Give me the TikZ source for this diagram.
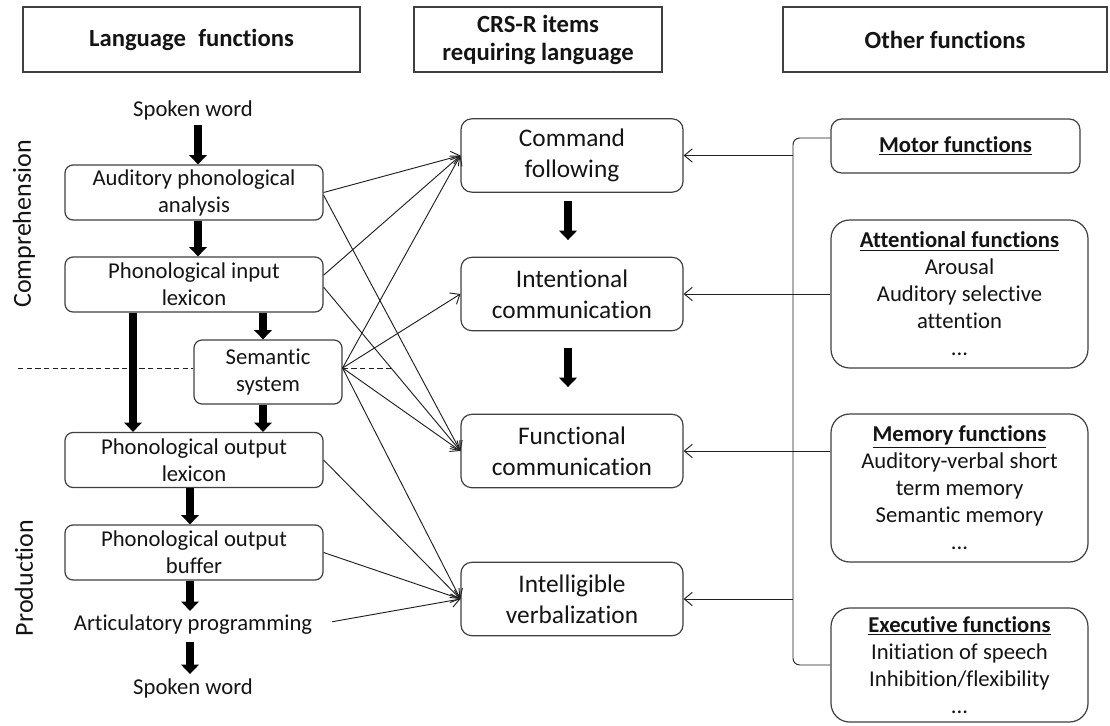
\documentclass[tikz,border=0pt]{standalone}
\usepackage{fontspec}
\setmainfont{Carlito}[Ligatures=NoCommon]
\usetikzlibrary{arrows.meta}
\definecolor{boxc}{HTML}{404040}
\definecolor{txtc}{HTML}{141414}
\definecolor{linec}{HTML}{202020}
\newcommand{\bodyfont}{\fontsize{17}{20.25}\selectfont}
\newcommand{\midfont}{\fontsize{19}{23}\selectfont}
\newcommand{\hdrfont}{\fontsize{18.5}{21}\selectfont\bfseries}
\begin{document}
\begin{tikzpicture}[x=0.75pt,y=-0.75pt,
  every node/.style={text=txtc},
  hdr/.style={draw=boxc, line width=1pt, rectangle, minimum height=48.75pt, inner sep=0pt, font=\hdrfont, align=center},
  lbox/.style={draw=boxc, line width=0.9pt, rounded corners=6pt, fill=white, minimum width=193.5pt, minimum height=41.25pt, inner sep=0pt, align=center, font=\bodyfont},
  mbox/.style={draw=boxc, line width=0.9pt, rounded corners=8pt, fill=white, minimum width=166.5pt, minimum height=55pt, inner sep=0pt, align=center, font=\midfont},
  rbox/.style={draw=boxc, line width=0.9pt, rounded corners=14pt, fill=white, minimum width=192.75pt, inner sep=0pt, align=center, font=\bodyfont},
  txt/.style={inner sep=1pt, font=\bodyfont},
  side/.style={inner sep=0pt, font=\fontsize{19.5}{22}\selectfont, rotate=90},
  bigarrow/.style={line width=6.3pt, draw=black, -{Triangle[length=7pt,width=13pt]}},
  ta/.style={line width=0.7pt, draw=linec, -{Straight Barb[length=6pt,width=10pt]}},
  ln/.style={line width=0.7pt, draw=linec}
]
\useasboundingbox (0,0) rectangle (1110,725);

% headers
\node[hdr, minimum width=252.75pt] (hl) at (191.5,39.5) {Language\hspace{0.5em}functions};
\node[hdr, minimum width=186pt] (hc) at (538,39.5) {CRS-R items\\requiring language};
\node[hdr, minimum width=243pt] (ho) at (945,39.5) {Other functions};

% side labels
\node[side] (comp) at (24,224) {Comprehension};
\node[side] (prod) at (24,578) {Production};

% dashed separator
\coordinate (dl) at (18,368);
\coordinate (dr) at (392,368);

% left column
\node[txt] (sw1) at (193,110) {Spoken word};
\node[lbox] (apa) at (194,192.5) {Auditory phonological\\analysis};
\node[lbox] (pil) at (194,284.5) {Phonological input\\lexicon};
\node[lbox, minimum width=111pt, minimum height=48pt] (sem) at (268,372) {Semantic\\system};
\node[lbox] (pol) at (194,460) {Phonological output\\lexicon};
\node[lbox] (pob) at (194,552.5) {Phonological output\\buffer};
\node[txt] (art) at (193,625) {Articulatory programming};
\node[txt] (sw2) at (193,688) {Spoken word};

\draw[ln, dash pattern=on 4pt off 2.5pt] (dl) -- (dl -| sem.west);
\draw[ln, dash pattern=on 4pt off 2.5pt] (sem.east |- dl) -- (dr);

% middle column
\node[mbox] (cf) at (572,155.5) {Command\\following};
\node[mbox] (ic) at (572,294) {Intentional\\communication};
\node[mbox] (fc) at (572,451) {Functional\\communication};
\node[mbox] (iv) at (572,599) {Intelligible\\verbalization};

% right column
\node[rbox, minimum width=186.75pt, minimum height=40.5pt, rounded corners=8pt] (mot) at (955.5,146) {\underline{\textbf{Motor functions}}};
\node[rbox, minimum height=111pt] (att) at (959.5,294) {\underline{\textbf{Attentional functions}}\\Arousal\\Auditory selective\\attention\\...};
\node[rbox, minimum height=111pt] (mem) at (959.5,488) {\underline{\textbf{Memory functions}}\\Auditory-verbal short\\term memory\\Semantic memory\\...};
\node[rbox, minimum height=85.5pt] (exe) at (959.5,665) {\underline{\textbf{Executive functions}}\\Initiation of speech\\Inhibition/flexibility\\...};

% thick vertical arrows, left
\draw[bigarrow, shorten <=3pt] (sw1.south -| 198,0) -- (apa.north -| 198,0);
\draw[bigarrow] (apa.south -| 198,0) -- (pil.north -| 198,0);
\draw[bigarrow] (pil.south -| 263,0) -- (sem.north -| 263,0);
\draw[bigarrow] (pil.south -| 133,0) -- (pol.north -| 133,0);
\draw[bigarrow] (sem.south -| 263,0) -- (pol.north -| 263,0);
\draw[bigarrow] (pol.south -| 190,0) -- (pob.north -| 190,0);
\draw[bigarrow, shorten >=2pt] (pob.south -| 190,0) -- (art.north -| 190,0);
\draw[bigarrow, shorten <=4pt, shorten >=2pt] (art.south -| 190,0) -- (sw2.north -| 190,0);

% thick vertical arrows, middle
\draw[bigarrow, shorten <=6pt, shorten >=12.5pt] (cf.south -| 568,0) -- (ic.north -| 568,0);
\draw[bigarrow, shorten <=12.5pt, shorten >=20pt] (ic.south -| 568,0) -- (fc.north -| 568,0);

% thin connectors left -> middle
\draw[ta] (apa.east) -- (cf.west);
\draw[ta] ([yshift=-2pt]apa.east) -- (fc.west);
\draw[ta] ([yshift=7pt]pil.east) -- (cf.west);
\draw[ta] ([yshift=-2pt]pil.east) -- (fc.west);
\draw[ta] ([yshift=3pt]sem.east) -- (cf.west);
\draw[ta] ([yshift=3pt]sem.east) -- (ic.west);
\draw[ta] ([yshift=3pt]sem.east) -- (fc.west);
\draw[ta] ([yshift=3pt]sem.east) -- (iv.west);
\draw[ta] (pol.east) -- (iv.west);
\draw[ta] (pob.east) -- (iv.west);
\draw[ta, shorten <=14pt] (art.east) -- (iv.west);

% right bus
\coordinate (busb) at (793,665);
\draw[ln, rounded corners=5pt] ([yshift=6pt]mot.west) -| (busb) -- (exe.west);
\draw[ta] (cf.east -| busb) -- (cf.east);
\draw[ta] (att.west) -- (ic.east);
\draw[ta] (mem.west |- fc.east) -- (fc.east);
\draw[ta] (iv.east -| busb) -- (iv.east);
\end{tikzpicture}
\end{document}
